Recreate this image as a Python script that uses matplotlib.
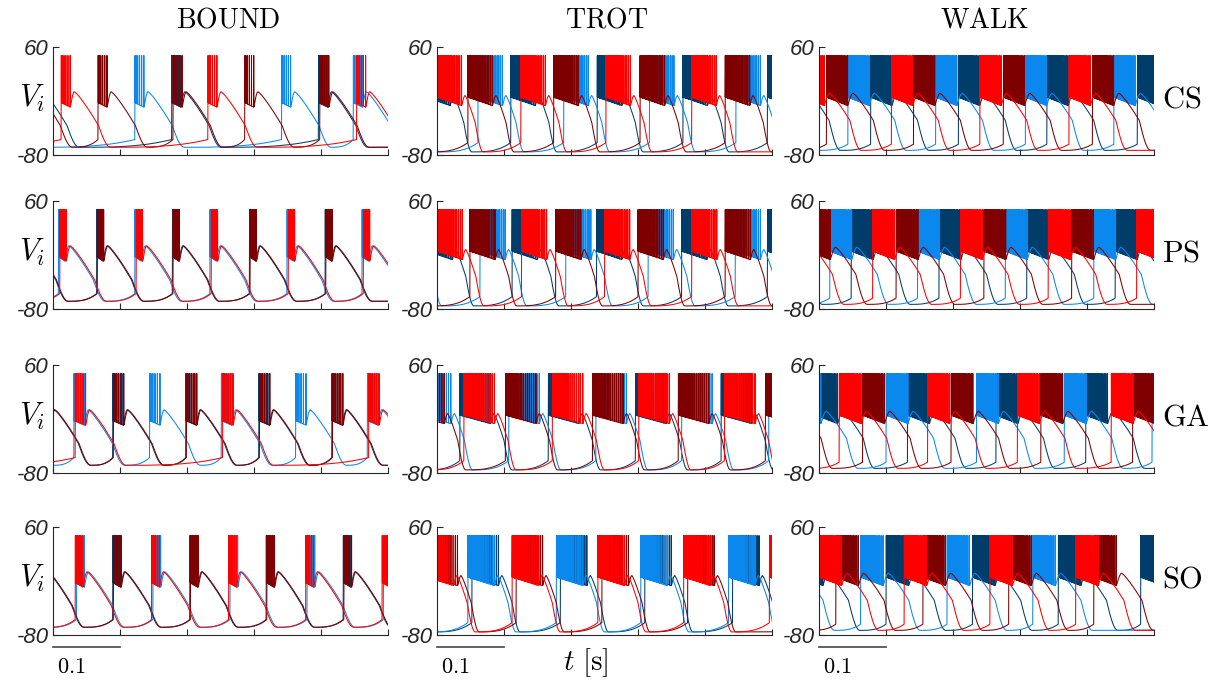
import numpy as np
import matplotlib.pyplot as plt
from matplotlib.transforms import blended_transform_factory

plt.rcParams["mathtext.fontset"] = "cm"

gaits = ["BOUND", "TROT", "WALK"]
networks = ["CS", "PS", "GA", "SO"]
# red, dark red, light blue, dark blue
neuron_colors = ["#ff0000", "#7f0000", "#0a88ee", "#003d6b"]
draw_order = [3, 2, 1, 0]

# burst onset times [s]: red, dark red, light blue, dark blue
bound_cs = [[-0.207, 0.012, 0.231, 0.453],
            [-0.045, 0.067, 0.179, 0.286, 0.398],
            [-0.098, 0.122, 0.341, 0.448],
            [-0.035, 0.177, 0.396]]
bound_ps = [[-0.104, 0.010, 0.124, 0.236, 0.351, 0.463],
            [-0.047, 0.066, 0.179, 0.294, 0.407],
            [-0.106, 0.008, 0.122, 0.234, 0.349, 0.461],
            [-0.048, 0.065, 0.178, 0.293, 0.406]]
bound_ga = [[-0.187, 0.033, 0.253, 0.471],
            [-0.019, 0.090, 0.199, 0.308, 0.417],
            [-0.077, 0.031, 0.144, 0.251, 0.362, 0.469],
            [-0.020, 0.089, 0.198, 0.307, 0.416]]
bound_so = [[-0.082, 0.033, 0.147, 0.262, 0.377, 0.491],
            [-0.025, 0.090, 0.205, 0.319, 0.434],
            [-0.080, 0.035, 0.149, 0.264, 0.379, 0.493],
            [-0.026, 0.089, 0.204, 0.318, 0.433]]

trot_cs = [[-0.127, 0.000, 0.125, 0.252, 0.380],
           [-0.080, 0.046, 0.174, 0.303, 0.430],
           [-0.066, 0.061, 0.189, 0.317, 0.446],
           [-0.017, 0.110, 0.239, 0.367, 0.493]]
trot_ps = [[-0.126, 0.000, 0.126, 0.250, 0.380],
           [-0.078, 0.049, 0.177, 0.300, 0.430],
           [-0.063, 0.064, 0.192, 0.315, 0.445],
           [-0.015, 0.112, 0.238, 0.365, 0.493]]
trot_ga = [[-0.090, 0.040, 0.172, 0.301, 0.429],
           [-0.035, 0.102, 0.232, 0.360, 0.490],
           [-0.025, 0.107, 0.237, 0.365, 0.495],
           [-0.096, 0.034, 0.166, 0.296, 0.424]]
trot_so = [[-0.015, 0.112, 0.240, 0.368, 0.496],
           [-0.009, 0.118, 0.246, 0.374],
           [-0.082, 0.046, 0.178, 0.304, 0.435],
           [-0.076, 0.052, 0.184, 0.310, 0.441]]

walk_cs = [[-0.024, 0.108, 0.240, 0.373],
           [-0.121, 0.011, 0.141, 0.275, 0.408],
           [-0.089, 0.043, 0.174, 0.308, 0.440],
           [-0.055, 0.077, 0.208, 0.340, 0.475]]
walk_ps = [[-0.051, 0.080, 0.211, 0.342, 0.474],
           [-0.016, 0.115, 0.246, 0.377],
           [-0.115, 0.016, 0.147, 0.278, 0.410],
           [-0.083, 0.048, 0.179, 0.310, 0.442]]
walk_ga = [[-0.102, 0.030, 0.162, 0.296, 0.436],
           [-0.068, 0.065, 0.197, 0.331, 0.468],
           [-0.030, 0.100, 0.235, 0.366, 0.497],
           [-0.005, 0.132, 0.264, 0.398]]
walk_so = [[-0.128, 0.000, 0.127, 0.255, 0.383],
           [-0.103, 0.025, 0.155, 0.283, 0.410],
           [-0.066, 0.062, 0.191, 0.319],
           [-0.028, 0.100, 0.229, 0.357, 0.480]]

onsets = [[bound_cs, trot_cs, walk_cs],
          [bound_ps, trot_ps, walk_ps],
          [bound_ga, trot_ga, walk_ga],
          [bound_so, trot_so, walk_so]]

# burst length per panel (rows x gaits)
burst_len = [[0.014, 0.037, 0.032],
             [0.010, 0.038, 0.033],
             [0.016, 0.046, 0.033],
             [0.012, 0.040, 0.034]]

# waveform shape per gait (mV, s after burst end)
spikes = [6, 26, 24]
spike_skew = [1.3, 1.9, 1.7]
spike_top = 49
floor_start = [-12, -5, -5]
floor_end = [-18, -16, -16]
hump_after = [0.006, 0.005, 0.008]
hump_v = [2, -3, 0]
shoulder_after = [0.042, 0.020, 0.038]
shoulder_v = [-42, -38, -35]
bottom_after = [0.060, 0.032, 0.055]
bottom_v = [-70, -76, -74]
pre_v = [-60, -64, -66]


def trace(starts, c, bd):
    n = spikes[c]
    tt, vv = [], []
    s = np.linspace(0, 1, 12)[1:]
    s2 = np.linspace(0, 1, 30)[1:]
    for i, t0 in enumerate(starts):
        t1 = starts[i + 1] if i + 1 < len(starts) else t0 + 0.3
        tt.append(t0)
        vv.append(pre_v[c])
        for k in range(n):
            u = (k / (n - 1)) ** spike_skew[c]
            tk = t0 + 0.0004 + u * (bd - 0.0008)
            fk = floor_start[c] + (floor_end[c] - floor_start[c]) * (tk - t0) / bd
            tt += [tk - 0.00015, tk, tk + 0.00015]
            vv += [fk, spike_top, fk]
        tb = t0 + bd
        th = tb + hump_after[c]
        tsh = tb + shoulder_after[c]
        tbot = tb + bottom_after[c]
        tt += list(tb + (th - tb) * s)
        vv += list(floor_end[c] + (hump_v[c] - floor_end[c]) * np.sin(np.pi / 2 * s))
        tt += list(th + (tsh - th) * s)
        vv += list(hump_v[c] + (shoulder_v[c] - hump_v[c]) * s ** 1.2)
        tt += list(tsh + (tbot - tsh) * s)
        vv += list(shoulder_v[c] + (bottom_v[c] - shoulder_v[c]) * np.sin(np.pi / 2 * s))
        tt += list(tbot + (t1 - tbot) * s2)
        vv += list(bottom_v[c] + (pre_v[c] - bottom_v[c]) * s2 ** 3)
    return np.array(tt), np.array(vv)


fig = plt.figure(figsize=(12.11, 6.83), dpi=100)
lefts = [53, 437, 819]
tops = [47, 201, 365, 527]
axcol = "#262626"

for r in range(4):
    for c in range(3):
        ax = fig.add_axes([lefts[c] / 1211, 1 - (tops[r] + 108) / 683, 335 / 1211, 108 / 683])
        for j in draw_order:
            t, v = trace(onsets[r][c][j], c, burst_len[r][c])
            ax.plot(t, v, color=neuron_colors[j], lw=0.75)
        ax.set_xlim(0, 0.5)
        ax.set_ylim(-80, 60)
        for side in ["top", "right"]:
            ax.spines[side].set_visible(False)
        for side in ["left", "bottom"]:
            ax.spines[side].set_color(axcol)
            ax.spines[side].set_linewidth(0.8)
        ax.set_xticks(np.arange(0, 0.51, 0.1))
        ax.set_xticklabels([])
        ax.set_yticks([-80, 60])
        ax.set_yticklabels(["-80", "60"], fontsize=16, style="italic",
                           family="Liberation Sans")
        ax.tick_params(direction="in", length=4, width=0.8, colors=axcol, pad=3)
        if c == 0:
            ax.text(-0.063, 0.52, r"$V_i$", transform=ax.transAxes,
                    ha="center", va="center", fontsize=22)
        if c == 2:
            ax.text(1.025, 0.52, r"$\mathrm{%s}$" % networks[r], transform=ax.transAxes,
                    ha="left", va="center", fontsize=22)
        if r == 3:
            tr = blended_transform_factory(ax.transData, ax.transAxes)
            ax.plot([0, 0.1], [-0.11, -0.11], transform=tr, color="#555555",
                    lw=1.3, clip_on=False)
            ax.text(0.006, -0.30, r"$0.1$", transform=tr, ha="left", va="center",
                    fontsize=16)

title_x = [228, 607, 985]
for c in range(3):
    fig.text(title_x[c] / 1211, 1 - 20 / 683, r"$\mathrm{%s}$" % gaits[c],
             ha="center", va="center", fontsize=20)

fig.text(586 / 1211, 1 - 663 / 683, r"$t\ [\mathrm{s}]$", ha="center", va="center",
         fontsize=21)

fig.savefig("out.png", dpi=100)
